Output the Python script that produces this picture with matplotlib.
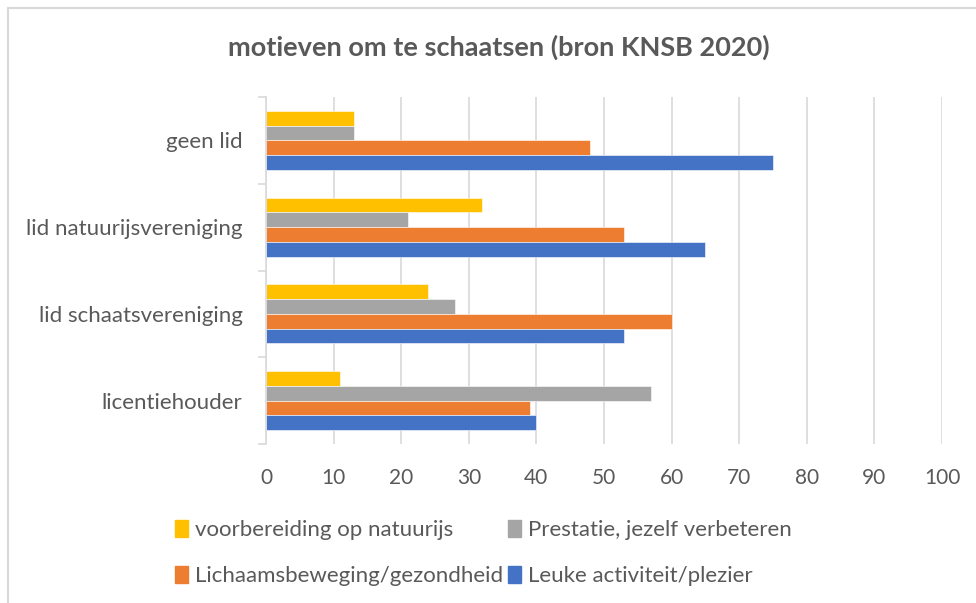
import matplotlib.pyplot as plt
import numpy as np
from matplotlib.lines import Line2D
from matplotlib.patches import Patch

plt.rcParams['font.family'] = ['Lato', 'DejaVu Sans']

categories = ['licentiehouder', 'lid schaatsvereniging', 'lid natuurijsvereniging', 'geen lid']
voorbereiding = [11, 24, 32, 13]
prestatie = [57, 28, 21, 13]
lichaamsbeweging = [39, 60, 53, 48]
leuke_activiteit = [40, 53, 65, 75]

series = [
    ('voorbereiding op natuurijs', voorbereiding, '#FFC000'),
    ('Prestatie, jezelf verbeteren', prestatie, '#A5A5A5'),
    ('Lichaamsbeweging/gezondheid', lichaamsbeweging, '#ED7D31'),
    ('Leuke activiteit/plezier', leuke_activiteit, '#4472C4'),
]

text_col = '#595959'
grid_col = '#D9D9D9'

W, H = 976, 603
fig = plt.figure(figsize=(W / 100, H / 100), dpi=100)
ax = fig.add_axes([266 / W, 1 - 444 / H, (942 - 266) / W, (444 - 97) / H])

y = np.arange(len(categories))
h = 0.17
offsets = [1.5 * h, 0.5 * h, -0.5 * h, -1.5 * h]
for (name, vals, col), off in zip(series, offsets):
    ax.barh(y + off, vals, height=h, color=col, label=name,
            edgecolor='white', linewidth=0.4, zorder=3)

ax.set_xlim(0, 100)
ax.set_ylim(-0.5, len(categories) - 0.5)
ax.set_xticks(np.arange(0, 101, 10))
ax.grid(axis='x', color=grid_col, linewidth=1.2, zorder=0)

# category boundaries get tick marks, centers get labels
ax.set_yticks(np.arange(-0.5, len(categories), 1.0))
ax.set_yticklabels([])
ax.set_yticks(y, minor=True)
ax.set_yticklabels(categories, minor=True)
ax.tick_params(axis='y', which='major', length=6, color=grid_col, width=1.2)
ax.tick_params(axis='y', which='minor', length=0, pad=17, labelsize=16, labelcolor=text_col)
ax.tick_params(axis='x', length=0, pad=17, labelsize=15, labelcolor=text_col)

for s in ['top', 'right', 'bottom']:
    ax.spines[s].set_visible(False)
ax.spines['left'].set_color(grid_col)
ax.spines['left'].set_linewidth(1.2)
ax.spines['left'].set_zorder(4)

fig.text(499 / W, 1 - 47 / H, 'motieven om te schaatsen (bron KNSB 2020)',
         ha='center', va='center', fontsize=19.5, fontweight='bold', color=text_col)

handles = [Patch(color=c) for _, _, c in series]
labels = [n for n, _, _ in series]
order = [0, 2, 1, 3]
fig.legend([handles[i] for i in order], [labels[i] for i in order],
           loc='upper left', bbox_to_anchor=(175 / W, 1 - 520 / H), ncol=2,
           frameon=False, fontsize=16, labelcolor=text_col, borderpad=0,
           borderaxespad=0, handlelength=0.6, handleheight=0.8, handletextpad=0.3,
           columnspacing=0.2, labelspacing=1.15)

# chart border
fig.add_artist(Line2D([8 / W, 8 / W], [0, 1 - 8 / H], color='#D9D9D9', lw=1.5))
fig.add_artist(Line2D([8 / W, 1], [1 - 8 / H, 1 - 8 / H], color='#D9D9D9', lw=1.5))

fig.savefig('out.png', dpi=100)
